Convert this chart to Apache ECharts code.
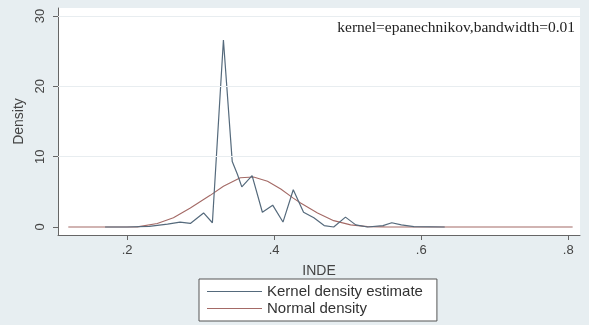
<!DOCTYPE html>
<html>
<head>
<meta charset="utf-8">
<script src="https://cdn.jsdelivr.net/npm/echarts@6/dist/echarts.min.js"></script>
<style>
html,body{margin:0;padding:0;background:#e7eef1;}
#c{width:589px;height:325px;}
</style>
</head>
<body>
<div id="c"></div>
<script>
// Kernel density estimate (x = INDE, y = density)
var kdeX = [0.17, 0.20, 0.23, 0.255, 0.272, 0.286, 0.304, 0.316, 0.331, 0.343, 0.350, 0.356, 0.370, 0.384, 0.398, 0.412, 0.426, 0.440, 0.454, 0.468, 0.481, 0.497, 0.511, 0.527, 0.548, 0.560, 0.573, 0.590, 0.632];
var kdeY = [0, 0, 0.1, 0.4, 0.7, 0.5, 2.0, 0.6, 26.6, 9.3, 7.5, 5.7, 7.3, 2.1, 3.1, 0.7, 5.3, 2.1, 1.3, 0.2, 0, 1.4, 0.3, 0, 0.2, 0.6, 0.3, 0.05, 0];
// Normal density
var normX = [0.12, 0.214, 0.241, 0.263, 0.286, 0.313, 0.331, 0.354, 0.372, 0.391, 0.409, 0.426, 0.436, 0.459, 0.481, 0.504, 0.527, 0.55, 0.806];
var normY = [0, 0.02, 0.5, 1.3, 2.7, 4.5, 5.8, 7.0, 7.1, 6.5, 5.4, 4.1, 3.4, 2.0, 0.9, 0.3, 0.05, 0.01, 0];
// Tick labels
var xTicks = [0.2, 0.4, 0.6, 0.8];
var xTickLabels = ['.2', '.4', '.6', '.8'];
var yTicks = [0, 10, 20, 30];
var seriesNames = ['Kernel density estimate', 'Normal density'];
var note = 'kernel=epanechnikov,bandwidth=0.01';

function pairs(xs, ys) { return xs.map(function (x, i) { return [x, ys[i]]; }); }

var chart = echarts.init(document.getElementById('c'), null, {renderer: 'canvas'});
chart.setOption({
  animation: false,
  backgroundColor: '#e7eef1',
  grid: {left: 58, right: 9, top: 8, bottom: 90, show: true, backgroundColor: '#ffffff', borderWidth: 0},
  xAxis: {
    type: 'value', min: 0.106, max: 0.816,
    name: 'INDE', nameLocation: 'middle', nameGap: 29,
    nameTextStyle: {fontFamily: 'Liberation Sans', fontSize: 14, color: '#444'},
    axisLine: {show: true, onZero: false, lineStyle: {color: '#666', width: 1}},
    axisTick: {show: true, customValues: xTicks, length: 5, lineStyle: {color: '#666'}},
    axisLabel: {customValues: xTicks, margin: 9, fontFamily: 'Liberation Sans', fontSize: 13, color: '#444',
      formatter: function (v) { var i = xTicks.indexOf(v); return i >= 0 ? xTickLabels[i] : ''; }},
    splitLine: {show: false}
  },
  yAxis: {
    type: 'value', min: -1.14, max: 31.14,
    name: 'Density', nameLocation: 'middle', nameGap: 31, nameRotate: 90,
    nameTextStyle: {fontFamily: 'Liberation Sans', fontSize: 14, color: '#444'},
    axisLine: {show: true, onZero: false, lineStyle: {color: '#666', width: 1}},
    axisTick: {show: true, customValues: yTicks, length: 5, lineStyle: {color: '#666'}},
    axisLabel: {customValues: yTicks, rotate: 90, margin: 11, fontFamily: 'Liberation Sans', fontSize: 13, color: '#444'},
    splitLine: {show: false}
  },
  legend: {
    orient: 'vertical', left: 199, top: 279,
    data: seriesNames,
    icon: 'rect', itemWidth: 55, itemHeight: 1, itemGap: 2,
    padding: [5, 14, 5, 8],
    backgroundColor: '#ffffff', borderColor: '#555', borderWidth: 1, borderRadius: 0,
    textStyle: {fontFamily: 'Liberation Sans', fontSize: 15, color: '#333'}
  },
  graphic: [{
    type: 'text', right: 14, top: 20,
    style: {text: note, fontFamily: 'Liberation Serif', fontSize: 15.5, fill: '#222'}
  }],
  series: [
    {
      name: seriesNames[0], type: 'line', data: pairs(kdeX, kdeY),
      showSymbol: false, symbol: 'none', color: '#556a7c',
      lineStyle: {width: 1.2, color: '#556a7c'},
      markLine: {
        silent: true, symbol: 'none', label: {show: false},
        lineStyle: {color: '#e8edf0', width: 1, type: 'solid'},
        data: [{yAxis: 10}, {yAxis: 20}, {yAxis: 30}]
      },
      z: 3
    },
    {
      name: seriesNames[1], type: 'line', data: pairs(normX, normY),
      showSymbol: false, symbol: 'none', color: '#a46a66',
      lineStyle: {width: 1.1, color: '#a46a66'},
      z: 2
    }
  ]
});
</script>
</body>
</html>
